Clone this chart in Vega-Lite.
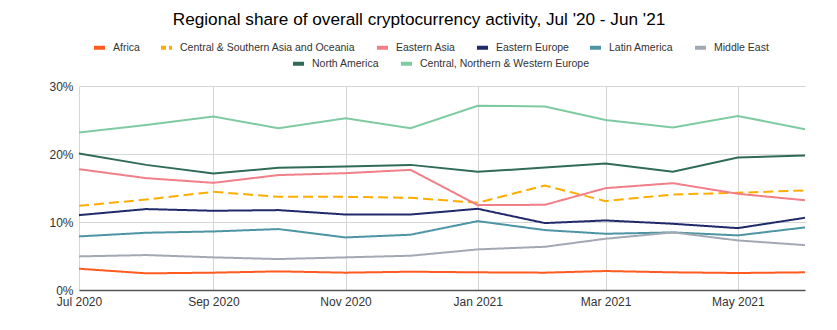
{
  "$schema": "https://vega.github.io/schema/vega-lite/v6.json",
  "width": 726,
  "height": 204,
  "autosize": {"type": "none"},
  "padding": {"left": 79, "top": 86, "right": 32, "bottom": 40},
  "background": "white",
  "title": {
    "text": "Regional share of overall cryptocurrency activity, Jul '20 - Jun '21",
    "font": "Liberation Sans",
    "fontSize": 17.2,
    "fontWeight": "normal",
    "color": "#000000",
    "anchor": "middle",
    "dx": -23,
    "offset": 12
  },
  "data": {
    "values": [
      {"m": "2020-07-01T00:00", "s": "Africa", "v": 3.13},
      {"m": "2020-08-01T00:00", "s": "Africa", "v": 2.45},
      {"m": "2020-09-01T00:00", "s": "Africa", "v": 2.55},
      {"m": "2020-10-01T00:00", "s": "Africa", "v": 2.74},
      {"m": "2020-11-01T00:00", "s": "Africa", "v": 2.55},
      {"m": "2020-12-01T00:00", "s": "Africa", "v": 2.69},
      {"m": "2021-01-01T00:00", "s": "Africa", "v": 2.6},
      {"m": "2021-02-01T00:00", "s": "Africa", "v": 2.55},
      {"m": "2021-03-01T00:00", "s": "Africa", "v": 2.79},
      {"m": "2021-04-01T00:00", "s": "Africa", "v": 2.6},
      {"m": "2021-05-01T00:00", "s": "Africa", "v": 2.5},
      {"m": "2021-06-01T00:00", "s": "Africa", "v": 2.6},
      {"m": "2020-07-01T00:00", "s": "Central & Southern Asia and Oceania", "v": 12.38},
      {"m": "2020-08-01T00:00", "s": "Central & Southern Asia and Oceania", "v": 13.3},
      {"m": "2020-09-01T00:00", "s": "Central & Southern Asia and Oceania", "v": 14.44},
      {"m": "2020-10-01T00:00", "s": "Central & Southern Asia and Oceania", "v": 13.7},
      {"m": "2020-11-01T00:00", "s": "Central & Southern Asia and Oceania", "v": 13.7},
      {"m": "2020-12-01T00:00", "s": "Central & Southern Asia and Oceania", "v": 13.56},
      {"m": "2021-01-01T00:00", "s": "Central & Southern Asia and Oceania", "v": 12.82},
      {"m": "2021-02-01T00:00", "s": "Central & Southern Asia and Oceania", "v": 15.37},
      {"m": "2021-03-01T00:00", "s": "Central & Southern Asia and Oceania", "v": 13.07},
      {"m": "2021-04-01T00:00", "s": "Central & Southern Asia and Oceania", "v": 14.05},
      {"m": "2021-05-01T00:00", "s": "Central & Southern Asia and Oceania", "v": 14.3},
      {"m": "2021-06-01T00:00", "s": "Central & Southern Asia and Oceania", "v": 14.64},
      {"m": "2020-07-01T00:00", "s": "Eastern Asia", "v": 17.77},
      {"m": "2020-08-01T00:00", "s": "Eastern Asia", "v": 16.45},
      {"m": "2020-09-01T00:00", "s": "Eastern Asia", "v": 15.76},
      {"m": "2020-10-01T00:00", "s": "Eastern Asia", "v": 16.9},
      {"m": "2020-11-01T00:00", "s": "Eastern Asia", "v": 17.18},
      {"m": "2020-12-01T00:00", "s": "Eastern Asia", "v": 17.67},
      {"m": "2021-01-01T00:00", "s": "Eastern Asia", "v": 12.48},
      {"m": "2021-02-01T00:00", "s": "Eastern Asia", "v": 12.53},
      {"m": "2021-03-01T00:00", "s": "Eastern Asia", "v": 14.98},
      {"m": "2021-04-01T00:00", "s": "Eastern Asia", "v": 15.71},
      {"m": "2021-05-01T00:00", "s": "Eastern Asia", "v": 14.15},
      {"m": "2021-06-01T00:00", "s": "Eastern Asia", "v": 13.2},
      {"m": "2020-07-01T00:00", "s": "Eastern Europe", "v": 11.01},
      {"m": "2020-08-01T00:00", "s": "Eastern Europe", "v": 11.9},
      {"m": "2020-09-01T00:00", "s": "Eastern Europe", "v": 11.65},
      {"m": "2020-10-01T00:00", "s": "Eastern Europe", "v": 11.75},
      {"m": "2020-11-01T00:00", "s": "Eastern Europe", "v": 11.1},
      {"m": "2020-12-01T00:00", "s": "Eastern Europe", "v": 11.1},
      {"m": "2021-01-01T00:00", "s": "Eastern Europe", "v": 11.94},
      {"m": "2021-02-01T00:00", "s": "Eastern Europe", "v": 9.84},
      {"m": "2021-03-01T00:00", "s": "Eastern Europe", "v": 10.23},
      {"m": "2021-04-01T00:00", "s": "Eastern Europe", "v": 9.74},
      {"m": "2021-05-01T00:00", "s": "Eastern Europe", "v": 9.1},
      {"m": "2021-06-01T00:00", "s": "Eastern Europe", "v": 10.62},
      {"m": "2020-07-01T00:00", "s": "Latin America", "v": 7.88},
      {"m": "2020-08-01T00:00", "s": "Latin America", "v": 8.42},
      {"m": "2020-09-01T00:00", "s": "Latin America", "v": 8.61},
      {"m": "2020-10-01T00:00", "s": "Latin America", "v": 8.96},
      {"m": "2020-11-01T00:00", "s": "Latin America", "v": 7.73},
      {"m": "2020-12-01T00:00", "s": "Latin America", "v": 8.13},
      {"m": "2021-01-01T00:00", "s": "Latin America", "v": 10.13},
      {"m": "2021-02-01T00:00", "s": "Latin America", "v": 8.81},
      {"m": "2021-03-01T00:00", "s": "Latin America", "v": 8.27},
      {"m": "2021-04-01T00:00", "s": "Latin America", "v": 8.47},
      {"m": "2021-05-01T00:00", "s": "Latin America", "v": 8.03},
      {"m": "2021-06-01T00:00", "s": "Latin America", "v": 9.2},
      {"m": "2020-07-01T00:00", "s": "Middle East", "v": 4.94},
      {"m": "2020-08-01T00:00", "s": "Middle East", "v": 5.14},
      {"m": "2020-09-01T00:00", "s": "Middle East", "v": 4.8},
      {"m": "2020-10-01T00:00", "s": "Middle East", "v": 4.55},
      {"m": "2020-11-01T00:00", "s": "Middle East", "v": 4.8},
      {"m": "2020-12-01T00:00", "s": "Middle East", "v": 5.04},
      {"m": "2021-01-01T00:00", "s": "Middle East", "v": 5.97},
      {"m": "2021-02-01T00:00", "s": "Middle East", "v": 6.36},
      {"m": "2021-03-01T00:00", "s": "Middle East", "v": 7.54},
      {"m": "2021-04-01T00:00", "s": "Middle East", "v": 8.47},
      {"m": "2021-05-01T00:00", "s": "Middle East", "v": 7.29},
      {"m": "2021-06-01T00:00", "s": "Middle East", "v": 6.6},
      {"m": "2020-07-01T00:00", "s": "North America", "v": 20.07},
      {"m": "2020-08-01T00:00", "s": "North America", "v": 18.4},
      {"m": "2020-09-01T00:00", "s": "North America", "v": 17.13},
      {"m": "2020-10-01T00:00", "s": "North America", "v": 17.96},
      {"m": "2020-11-01T00:00", "s": "North America", "v": 18.16},
      {"m": "2020-12-01T00:00", "s": "North America", "v": 18.4},
      {"m": "2021-01-01T00:00", "s": "North America", "v": 17.38},
      {"m": "2021-02-01T00:00", "s": "North America", "v": 18.0},
      {"m": "2021-03-01T00:00", "s": "North America", "v": 18.6},
      {"m": "2021-04-01T00:00", "s": "North America", "v": 17.4},
      {"m": "2021-05-01T00:00", "s": "North America", "v": 19.5},
      {"m": "2021-06-01T00:00", "s": "North America", "v": 19.77},
      {"m": "2020-07-01T00:00", "s": "Central, Northern & Western Europe", "v": 23.15},
      {"m": "2020-08-01T00:00", "s": "Central, Northern & Western Europe", "v": 24.28},
      {"m": "2020-09-01T00:00", "s": "Central, Northern & Western Europe", "v": 25.5},
      {"m": "2020-10-01T00:00", "s": "Central, Northern & Western Europe", "v": 23.8},
      {"m": "2020-11-01T00:00", "s": "Central, Northern & Western Europe", "v": 25.26},
      {"m": "2020-12-01T00:00", "s": "Central, Northern & Western Europe", "v": 23.8},
      {"m": "2021-01-01T00:00", "s": "Central, Northern & Western Europe", "v": 27.1},
      {"m": "2021-02-01T00:00", "s": "Central, Northern & Western Europe", "v": 27.0},
      {"m": "2021-03-01T00:00", "s": "Central, Northern & Western Europe", "v": 25.0},
      {"m": "2021-04-01T00:00", "s": "Central, Northern & Western Europe", "v": 23.9},
      {"m": "2021-05-01T00:00", "s": "Central, Northern & Western Europe", "v": 25.6},
      {"m": "2021-06-01T00:00", "s": "Central, Northern & Western Europe", "v": 23.64}
    ]
  },
  "encoding": {
    "x": {
      "field": "m",
      "type": "temporal",
      "scale": {"nice": false},
      "axis": {
        "title": null,
        "format": "%b %Y",
        "tickCount": {"interval": "month", "step": 2},
        "grid": true,
        "gridColor": "#d6d6d6",
        "ticks": false,
        "domainColor": "#555555",
        "domainWidth": 1.5,
        "labelPadding": 6,
        "labelFlush": false,
        "labelOverlap": false
      }
    },
    "y": {
      "field": "v",
      "type": "quantitative",
      "scale": {"domain": [0, 30], "nice": false},
      "axis": {
        "title": null,
        "values": [0, 10, 20, 30],
        "labelExpr": "datum.value + '%'",
        "grid": true,
        "gridColor": "#d6d6d6",
        "domain": false,
        "ticks": false,
        "labelPadding": 6
      }
    }
  },
  "layer": [
    {
      "transform": [{"filter": {"field": "s", "oneOf": ["Africa", "Central & Southern Asia and Oceania", "Eastern Asia", "Eastern Europe", "Latin America", "Middle East"]}}],
      "mark": {"type": "line", "strokeWidth": 2},
      "encoding": {
        "color": {
          "field": "s",
          "type": "nominal",
          "scale": {
            "domain": ["Africa", "Central & Southern Asia and Oceania", "Eastern Asia", "Eastern Europe", "Latin America", "Middle East"],
            "range": ["#ff5a1f", "#ffac00", "#f07f87", "#1f2a6b", "#4d95a4", "#a2a8b4"]
          },
          "legend": {
            "title": null,
            "orient": "none",
            "direction": "horizontal",
            "legendX": 13,
            "legendY": -46,
            "encode": {
              "symbols": {
                "update": {
                  "strokeDash": {"signal": "datum.value === 'Central & Southern Asia and Oceania' ? [5, 3] : [1, 0]"}
                }
              }
            }
          }
        },
        "strokeDash": {
          "condition": {"test": "datum.s === 'Central & Southern Asia and Oceania'", "value": [10, 5]},
          "value": [1, 0]
        }
      }
    },
    {
      "transform": [{"filter": {"field": "s", "oneOf": ["North America", "Central, Northern & Western Europe"]}}],
      "mark": {"type": "line", "strokeWidth": 2},
      "encoding": {
        "color": {
          "field": "s",
          "type": "nominal",
          "scale": {
            "domain": ["North America", "Central, Northern & Western Europe"],
            "range": ["#2f6b57", "#7ecba1"]
          },
          "legend": {
            "title": null,
            "orient": "none",
            "direction": "horizontal",
            "legendX": 212,
            "legendY": -30
          }
        }
      }
    }
  ],
  "resolve": {"scale": {"color": "independent"}, "legend": {"color": "independent"}},
  "config": {
    "view": {"stroke": null},
    "font": "Liberation Sans",
    "axis": {
      "labelFont": "Liberation Sans",
      "labelFontSize": 12,
      "labelColor": "#333333"
    },
    "legend": {
      "labelFont": "Liberation Sans",
      "labelFontSize": 10.5,
      "labelColor": "#333333",
      "labelLimit": 400,
      "symbolType": "stroke",
      "symbolStrokeWidth": 4,
      "symbolSize": 121,
      "labelOffset": 6,
      "columnPadding": 13,
      "padding": 0
    }
  }
}
